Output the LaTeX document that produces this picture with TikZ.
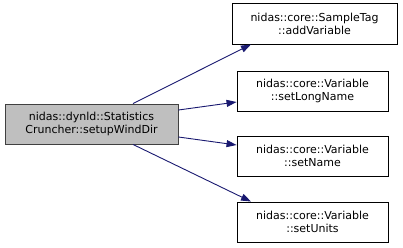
\documentclass[tikz,border=0pt]{standalone}
\usepackage{fontspec}
\setmainfont{DejaVu Sans}
\usetikzlibrary{arrows.meta}
\definecolor{edgeblue}{HTML}{191970}
\definecolor{callerfill}{HTML}{BFBFBF}
\definecolor{callerdraw}{HTML}{404040}
\begin{document}
\begin{tikzpicture}[x=1pt,y=-1pt,
  fn/.style={draw=black, fill=white, line width=0.9pt, rectangle, inner sep=0pt,
    align=center, font=\fontsize{11}{13}\selectfont},
  caller/.style={fn, draw=callerdraw, fill=callerfill},
  call/.style={draw=edgeblue, line width=0.9pt,
    -{Triangle[length=10pt,width=7pt,fill=edgeblue]}}]
\useasboundingbox (0,0) rectangle (403,247);
\node[caller, minimum width=173pt, minimum height=40pt] (src) at (91.5,124)
  {nidas::dynld::Statistics\\Cruncher::setupWindDir};
\node[fn, minimum width=165pt, minimum height=41pt] (t1) at (314.5,23.5)
  {nidas::core::SampleTag\\::addVariable};
\node[fn, minimum width=151pt, minimum height=40pt] (t2) at (312.5,91)
  {nidas::core::Variable\\::setLongName};
\node[fn, minimum width=151pt, minimum height=40pt] (t3) at (312.5,156)
  {nidas::core::Variable\\::setName};
\node[fn, minimum width=151pt, minimum height=40pt] (t4) at (312.5,222)
  {nidas::core::Variable\\::setUnits};
\draw[call] (src.north -| 133,0) -- (t1.south -| 251,0);
\draw[call] (src.east |- 0,110) -- (t2.west |- 0,102);
\draw[call] (src.east |- 0,137) -- (t3.west |- 0,145);
\draw[call] (src.south -| 133,0) -- (t4.north -| 251,0);
\end{tikzpicture}
\end{document}
